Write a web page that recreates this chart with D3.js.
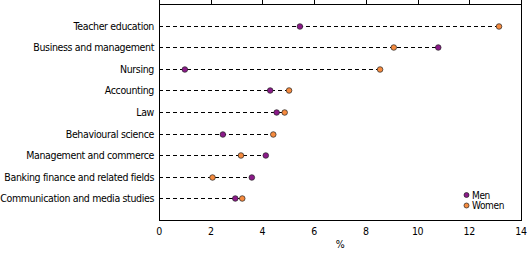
<!DOCTYPE html>
<html>
<head>
<meta charset="utf-8">
<script src="https://cdn.jsdelivr.net/npm/d3@7"></script>
<style>
body { margin: 0; background: #fff; }
text { font-family: "DejaVu Sans Condensed", "DejaVu Sans", sans-serif; font-size: 10.5px; fill: #000; letter-spacing: -0.35px; }
.leg text { font-size: 10px; }
</style>
</head>
<body>
<div id="chart"></div>
<script>
var fields = ['Teacher education', 'Business and management', 'Nursing', 'Accounting', 'Law',
  'Behavioural science', 'Management and commerce', 'Banking finance and related fields',
  'Communication and media studies'];
var men = [5.45, 10.8, 1.0, 4.3, 4.55, 2.47, 4.13, 3.59, 2.95];
var women = [13.15, 9.08, 8.55, 5.03, 4.86, 4.42, 3.17, 2.07, 3.22];
var xTicks = [0, 2, 4, 6, 8, 10, 12, 14];

var margin = { top: 4, right: 8, bottom: 33, left: 159 };
var width = 529 - margin.left - margin.right,
    height = 253 - margin.top - margin.bottom;

var menCol = '#8b1a89', womenCol = '#f68b3f';

var svg = d3.select('#chart').append('svg')
  .attr('width', 529).attr('height', 253);
var g = svg.append('g')
  .attr('transform', 'translate(' + margin.left + ',' + margin.top + ')');

var x = d3.scaleLinear().domain([0, 14]).range([0, width]);
var y = d3.scalePoint().domain(fields).range([0, height]).padding(1);

// dashed guide lines from axis to the larger value
g.selectAll('line.guide')
  .data(fields)
  .enter().append('line')
  .attr('x1', 0)
  .attr('x2', function(d, i) { return x(Math.max(men[i], women[i])); })
  .attr('y1', function(d) { return Math.round(y(d)) + 0.5; })
  .attr('y2', function(d) { return Math.round(y(d)) + 0.5; })
  .attr('stroke', '#000')
  .attr('stroke-dasharray', '4,3');

// frame
g.append('rect')
  .attr('x', 0.5).attr('y', 0.5)
  .attr('width', width).attr('height', height)
  .attr('fill', 'none').attr('stroke', '#000');

// top ticks pointing up
g.selectAll('line.tick')
  .data(xTicks)
  .enter().append('line')
  .attr('x1', function(d) { return Math.round(x(d)) + 0.5; })
  .attr('x2', function(d) { return Math.round(x(d)) + 0.5; })
  .attr('y1', 0).attr('y2', -4)
  .attr('stroke', '#000');

// bottom tick labels
g.selectAll('text.xl')
  .data(xTicks)
  .enter().append('text')
  .attr('x', function(d) { return x(d); })
  .attr('y', height + 15)
  .attr('text-anchor', 'middle')
  .text(function(d) { return d; });

// category labels
g.selectAll('text.yl')
  .data(fields)
  .enter().append('text')
  .attr('x', -5)
  .attr('y', function(d) { return Math.round(y(d)) + 4; })
  .attr('text-anchor', 'end')
  .text(function(d) { return d; });

g.append('text')
  .attr('x', x(7)).attr('y', height + 28)
  .attr('text-anchor', 'middle')
  .text('%');

function dots(vals, col) {
  g.selectAll(null)
    .data(fields)
    .enter().append('circle')
    .attr('cx', function(d, i) { return x(vals[i]); })
    .attr('cy', function(d) { return Math.round(y(d)) + 0.5; })
    .attr('r', 2.8)
    .attr('fill', col)
    .attr('stroke', '#222')
    .attr('stroke-width', 0.7);
}
dots(women, womenCol);
dots(men, menCol);

// legend
var legend = g.selectAll('g.leg')
  .data([['Men', menCol], ['Women', womenCol]])
  .enter().append('g')
  .attr('class', 'leg')
  .attr('transform', function(d, i) { return 'translate(307.5,' + (191 + i * 10.5) + ')'; });
legend.append('circle')
  .attr('r', 2.5)
  .attr('fill', function(d) { return d[1]; })
  .attr('stroke', '#222').attr('stroke-width', 0.7);
legend.append('text')
  .attr('x', 5.5).attr('y', 3.5)
  .text(function(d) { return d[0]; });
</script>
</body>
</html>
